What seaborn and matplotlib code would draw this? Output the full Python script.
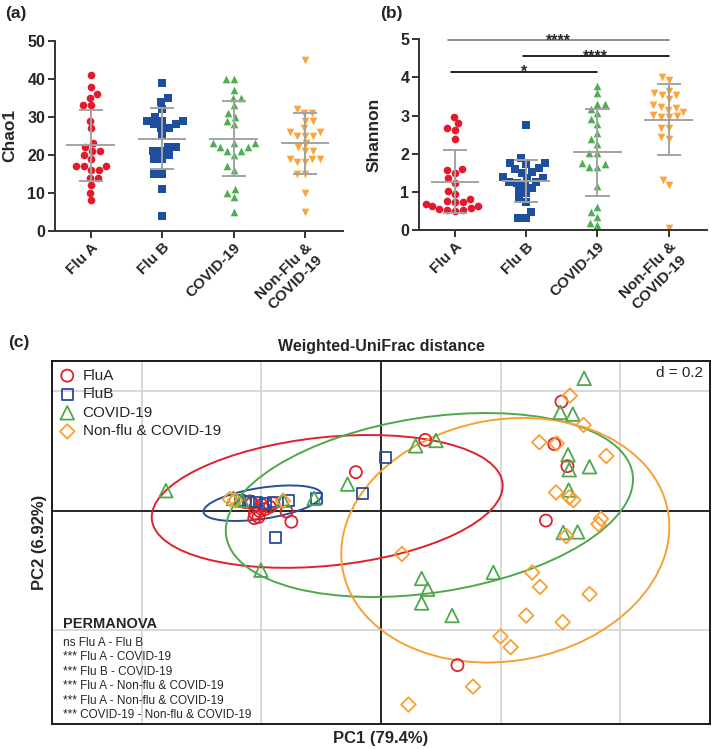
import numpy as np
import pandas as pd
import seaborn as sns
import matplotlib.pyplot as plt
from matplotlib.patches import Ellipse

groups = ["Flu A", "Flu B", "COVID-19", "Non-Flu &\nCOVID-19"]

# ---- alpha diversity (a) Chao1
chao1_flua = [41, 38, 35, 36, 33, 33, 29, 27, 22, 23, 21, 21, 20, 19, 17, 17, 17, 16, 16, 14, 14, 12, 10, 8]
chao1_flub = [39, 35, 34, 32, 30, 29, 29, 29, 28, 28, 27, 27, 25, 22, 22, 21, 21, 20, 19, 19, 15, 15, 11, 4]
chao1_covid = [40, 40, 37, 35, 35, 33, 31, 30, 29, 28, 23, 23, 23, 22, 22, 21, 21, 20, 17, 16, 10, 11, 9, 5]
chao1_nonflu = [45, 32, 31, 31, 29, 29, 27, 26, 26, 25, 25, 25, 23, 22, 21, 21, 19, 19, 19, 18, 18, 15, 15, 10, 5]

# ---- alpha diversity (b) Shannon
shannon_flua = [2.97, 2.80, 2.62, 2.68, 2.39, 1.49, 1.59, 1.56, 1.35, 1.24, 1.03, 0.94, 0.76, 0.74,
                0.81, 0.72, 0.64, 0.57, 0.52, 0.52, 0.64, 0.68, 0.50, 0.54]
shannon_flub = [2.75, 1.88, 1.75, 1.72, 1.75, 1.59, 1.62, 1.50, 1.51, 1.35, 1.35, 1.40, 1.27, 1.27,
                1.16, 1.09, 1.24, 1.03, 0.96, 0.81, 0.74, 0.47, 0.31, 0.31]
shannon_covid = [3.78, 3.58, 3.30, 3.30, 3.17, 3.06, 2.90, 2.77, 2.53, 2.38, 2.26, 2.01, 2.01, 1.75,
                 1.66, 1.73, 1.66, 1.14, 0.59, 0.46, 0.35, 0.13, 0.19]
shannon_nonflu = [4.02, 3.93, 3.65, 3.54, 3.44, 3.54, 3.60, 3.10, 3.22, 3.19, 3.28, 3.15, 2.99, 2.95,
                  2.97, 3.02, 2.68, 2.68, 2.45, 2.38, 1.31, 1.18, 0.06]

# significance bars in (b): start/end category, height, label
sig_start = [-0.1, 0.95, -0.05]
sig_end = [3.0, 3.0, 2.0]
sig_y = [4.97, 4.56, 4.15]
sig_text = ["****", "****", "*"]

# ---- PCoA (c)
pc_flua_x = [0.074, -0.042, 0.290, 0.312, 0.302, 0.276, 0.128, -0.228, -0.216, -0.211, -0.203, -0.194,
             -0.186, -0.205, -0.212, -0.180, -0.158, -0.150, -0.219, -0.199]
pc_flua_y = [0.119, 0.065, 0.112, 0.075, 0.183, -0.016, -0.258, 0.015, 0.013, -0.004, 0.000, 0.003,
             0.007, -0.010, -0.012, 0.013, -0.001, -0.018, 0.016, 0.010]
pc_flub_x = [0.007, -0.031, -0.177, -0.108, -0.155, -0.180, -0.194, -0.222, -0.209, -0.236]
pc_flub_y = [0.089, 0.029, -0.044, 0.021, 0.018, 0.015, 0.013, 0.016, 0.015, 0.017]
pc_covid_x = [-0.360, -0.201, -0.112, -0.164, -0.233, -0.247, 0.058, 0.092, -0.056, 0.340, 0.300, 0.321,
              0.313, 0.315, 0.349, 0.314, 0.305, 0.329, 0.188, 0.068, 0.078, 0.068, 0.119]
pc_covid_y = [0.034, -0.099, 0.021, 0.018, 0.018, 0.021, 0.109, 0.118, 0.045, 0.222, 0.165, 0.162,
              0.094, 0.069, 0.074, 0.035, -0.036, -0.035, -0.103, -0.113, -0.131, -0.154, -0.175]
pc_nonflu_x = [0.316, 0.339, 0.265, 0.294, 0.377, 0.293, 0.315, 0.322, 0.368, 0.364, 0.310, 0.035,
               0.253, 0.266, 0.349, 0.243, 0.304, 0.200, 0.217, 0.154, 0.046, -0.253, -0.244, -0.164]
pc_nonflu_y = [0.193, 0.144, 0.115, 0.113, 0.092, 0.031, 0.023, 0.018, -0.013, -0.022, -0.042, -0.072,
               -0.103, -0.127, -0.139, -0.175, -0.186, -0.210, -0.228, -0.294, -0.324, 0.020, 0.018, 0.017]

# group ellipses: centre, full width/height, angle
ell_cx = [-0.090, -0.198, 0.081, 0.208]
ell_cy = [0.016, 0.013, 0.010, -0.049]
ell_w = [0.590, 0.200, 0.688, 0.553]
ell_h = [0.215, 0.052, 0.293, 0.404]
ell_angle = [5.9, 8.6, 8.75, 10.1]

pc_labels = ["FluA", "FluB", "COVID-19", "Non-flu & COVID-19"]
permanova = ["ns Flu A - Flu B",
             "*** Flu A - COVID-19",
             "*** Flu B - COVID-19",
             "*** Flu A - Non-flu & COVID-19",
             "*** Flu A - Non-flu & COVID-19",
             "*** COVID-19 - Non-flu & COVID-19"]

fill_cols = ["#E31A2C", "#1F4E9C", "#4CAF50", "#FBA43A"]
line_cols = ["#E0212B", "#2B4C9B", "#4DA84D", "#F7A035"]
dot_markers = ["o", "s", "^", "v"]
pc_markers = ["o", "s", "^", "D"]
pc_sizes = [75, 62, 95, 55]

sns.set_style("ticks")
plt.rcParams["font.family"] = ["Liberation Sans", "DejaVu Sans"]

fig = plt.figure(figsize=(7.14, 7.49), dpi=100)
ax1 = fig.add_axes([0.077, 0.692, 0.4034, 0.2533])
ax2 = fig.add_axes([0.587, 0.693, 0.4025, 0.2546])
ax3 = fig.add_axes([0.0728, 0.0334, 0.9216, 0.4846])


def to_long(lists):
    rows = []
    for g, vals in zip(groups, lists):
        rows += [(g, v) for v in vals]
    return pd.DataFrame(rows, columns=["group", "value"])


def alpha_panel(ax, df, ymax, step, ylabel):
    for g, c, m in zip(groups, fill_cols, dot_markers):
        sns.swarmplot(data=df[df.group == g], x="group", y="value", order=groups,
                      color=c, marker=m, size=5.5, linewidth=0, ax=ax, zorder=2)
    stats = df.groupby("group", sort=False)["value"].agg(["mean", "std"]).reindex(groups)
    for i, (mu, sd) in enumerate(zip(stats["mean"], stats["std"])):
        kw = dict(color="#A3A3A3", lw=1.4, zorder=3)
        ax.hlines(mu, i - 0.34, i + 0.34, **kw)
        ax.vlines(i, max(mu - sd, 0), mu + sd, **kw)
        ax.hlines([mu - sd, mu + sd], i - 0.17, i + 0.17, **kw)
    ax.set_xlim(-0.5, 3.53)
    ax.set_ylim(0, ymax)
    ax.set_yticks(np.arange(0, ymax + step / 2, step))
    ax.set_xticks(range(4))
    ax.set_xticklabels(groups, rotation=45, ha="right", rotation_mode="anchor",
                       fontweight="bold", fontsize=11, multialignment="center")
    for t in ax.get_yticklabels():
        t.set_fontweight("bold")
        t.set_fontsize(11.5)
    ax.set_xlabel("")
    ax.set_ylabel(ylabel, fontsize=12.5, fontweight="bold")
    ax.yaxis.set_label_coords(-0.13, 0.5)
    for s in ["top", "right"]:
        ax.spines[s].set_visible(False)
    for s in ["left", "bottom"]:
        ax.spines[s].set_linewidth(1.4)
        ax.spines[s].set_color("#333333")
    ax.tick_params(width=1.4, length=5, color="#333333", pad=2)


alpha_panel(ax1, to_long([chao1_flua, chao1_flub, chao1_covid, chao1_nonflu]), 50, 10, "Chao1")
alpha_panel(ax2, to_long([shannon_flua, shannon_flub, shannon_covid, shannon_nonflu]), 5, 1, "Shannon")

for k, (x0, x1, y, t) in enumerate(zip(sig_start, sig_end, sig_y, sig_text)):
    ax2.plot([x0, x1], [y, y], color="#7A7A7A" if k == 0 else "black", lw=1.2, clip_on=False)
    ax2.text((x0 + x1) / 2, y - 0.02, t, ha="center", va="center", fontsize=11.5, fontweight="bold")

# ---- panel (c)
pc_x = [pc_flua_x, pc_flub_x, pc_covid_x, pc_nonflu_x]
pc_y = [pc_flua_y, pc_flub_y, pc_covid_y, pc_nonflu_y]
for i in range(4):
    ax3.add_patch(Ellipse((ell_cx[i], ell_cy[i]), ell_w[i], ell_h[i], angle=ell_angle[i],
                          fill=False, ec=line_cols[i], lw=1.4, zorder=2))
for xs, ys, lab, c, m, s in zip(pc_x, pc_y, pc_labels, line_cols, pc_markers, pc_sizes):
    sns.scatterplot(x=xs, y=ys, marker=m, s=s, color=c, facecolor="none", edgecolor=c,
                    linewidth=1.3, label=lab, ax=ax3, zorder=3)

ax3.set_xlim(-0.5506, 0.5506)
ax3.set_ylim(-0.3565, 0.251)
ax3.set_xticks([-0.4, -0.2, 0, 0.2, 0.4])
ax3.set_yticks([-0.2, 0, 0.2])
ax3.grid(True, color="#D2D2D2", lw=1.2)
ax3.set_axisbelow(True)
ax3.tick_params(length=0, labelbottom=False, labelleft=False)
ax3.axhline(0, color="#1A1A1A", lw=1.3, zorder=1.5)
ax3.axvline(0, color="#1A1A1A", lw=1.3, zorder=1.5)
for s in ax3.spines.values():
    s.set_linewidth(1.4)
    s.set_color("#1A1A1A")

ax3.legend(loc="upper left", frameon=False, fontsize=11, handlelength=1.0,
           handletextpad=0.5, labelspacing=0.3, borderaxespad=0.3, borderpad=0.2)

ax3.set_xlabel("PC1 (79.4%)", fontsize=12, fontweight="bold")
ax3.xaxis.set_label_coords(0.5, -0.018)
ax3.set_ylabel("PC2 (6.92%)", fontsize=12, fontweight="bold")
ax3.yaxis.set_label_coords(-0.008, 0.5)
ax3.text(0.5, 1.041, "Weighted-UniFrac distance", transform=ax3.transAxes,
         ha="center", va="center", fontsize=11.5, fontweight="bold")
ax3.text(0.989, 0.968, "d = 0.2", transform=ax3.transAxes, ha="right", va="center", fontsize=11)
ax3.text(0.0175, 0.2755, "PERMANOVA", transform=ax3.transAxes, ha="left", va="center",
         fontsize=10.5, fontweight="bold")
for i, line in enumerate(permanova):
    ax3.text(0.0165, 0.224 - i * 0.04, line, transform=ax3.transAxes, ha="left", va="center",
             fontsize=8.5)

fig.text(0.007, 0.982, "(a)", fontsize=12.5, fontweight="bold", va="center")
fig.text(0.532, 0.982, "(b)", fontsize=12.5, fontweight="bold", va="center")
fig.text(0.011, 0.543, "(c)", fontsize=12.5, fontweight="bold", va="center")

fig.savefig("out.png", dpi=100)
